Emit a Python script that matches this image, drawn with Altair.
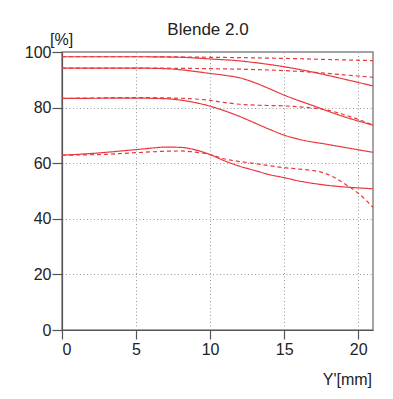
import altair as alt
import pandas as pd

# ---- data ----
a_s_x = [0, 5, 8, 10, 12, 13, 15, 17, 19, 21]
a_s_y = [98.3, 98.3, 98.1, 97.5, 96.8, 96.2, 94.7, 92.7, 90.3, 87.8]
a_d_x = [0, 5, 10, 15, 18, 21]
a_d_y = [98.3, 98.3, 98.1, 97.7, 97.3, 96.9]

b_s_x = [0, 5, 7, 10, 11, 12, 13, 14, 15, 17, 19, 21]
b_s_y = [94.2, 94.2, 94.0, 92.3, 91.6, 90.7, 89.0, 86.8, 84.5, 80.6, 76.8, 73.7]
b_d_x = [0, 5, 10, 15, 17, 19, 21]
b_d_y = [94.2, 94.2, 94.0, 93.3, 92.7, 91.8, 90.9]

c_s_x = [0, 5, 7, 8, 9, 10, 11, 12, 13, 14, 15, 16, 18, 21]
c_s_y = [83.3, 83.4, 83.2, 82.7, 81.8, 80.5, 78.8, 76.8, 74.5, 72.2, 70.1, 68.6, 66.7, 63.9]
c_d_x = [0, 5, 7, 9, 10, 11, 12, 13, 15, 17, 18, 19, 20, 21]
c_d_y = [83.3, 83.6, 83.5, 83.1, 82.6, 81.8, 81.2, 80.9, 80.6, 79.8, 79.0, 77.5, 75.8, 73.7]

d_s_x = [0, 2, 4, 5, 6, 7, 8, 9, 10, 11, 12, 13, 14, 15, 16, 17, 18, 19, 21]
d_s_y = [62.9, 63.5, 64.4, 64.9, 65.4, 65.8, 65.7, 64.8, 63.1, 60.8, 58.9, 57.4, 55.9, 54.8, 53.6, 52.7, 52.0, 51.5, 50.8]
d_d_x = [0, 3, 5, 7, 8, 9, 10, 11, 12, 13, 14, 15, 16, 17, 17.5, 18.3, 19.2, 20, 21]
d_d_y = [62.9, 63.2, 63.8, 64.3, 64.4, 64.0, 63.1, 61.5, 60.6, 59.9, 59.1, 58.4, 57.9, 57.3, 56.8, 55.1, 52.2, 49.2, 44.1]

x_ticks = [0, 5, 10, 15, 20]
y_ticks = [0, 20, 40, 60, 80, 100]

curves = [
    ("a_s", "solid", a_s_x, a_s_y), ("a_d", "dashed", a_d_x, a_d_y),
    ("b_s", "solid", b_s_x, b_s_y), ("b_d", "dashed", b_d_x, b_d_y),
    ("c_s", "solid", c_s_x, c_s_y), ("c_d", "dashed", c_d_x, c_d_y),
    ("d_s", "solid", d_s_x, d_s_y), ("d_d", "dashed", d_d_x, d_d_y),
]
rows = []
for name, style, xs, ys in curves:
    for i, (xv, yv) in enumerate(zip(xs, ys)):
        rows.append({"x": xv, "y": yv, "curve": name, "style": style, "order": i})
df = pd.DataFrame(rows)

FONT = "Liberation Sans"
RED = "#e8383d"

lines = alt.Chart(df).mark_line(strokeWidth=1.2, color=RED, interpolate="monotone").encode(
    x=alt.X("x:Q", scale=alt.Scale(domain=[0, 21], nice=False, zero=False),
            axis=alt.Axis(values=x_ticks, title=None, grid=True, format="d")),
    y=alt.Y("y:Q", scale=alt.Scale(domain=[0, 100], nice=False),
            axis=alt.Axis(values=y_ticks, title=None, grid=True, format="d")),
    detail="curve:N",
    order="order:Q",
    strokeDash=alt.StrokeDash("style:N", scale=alt.Scale(domain=["solid", "dashed"], range=[[1, 0], [4, 3]]), legend=None),
)

def label(txt, x, y, size, align="left"):
    return alt.Chart(pd.DataFrame({"t": [txt]})).mark_text(
        font=FONT, fontSize=size, color="#222", align=align, baseline="alphabetic"
    ).encode(text="t:N", x=alt.value(x), y=alt.value(y))

title = label("Blende 2.0", 146, -17, 17, "center")
pct = label("[%]", -12, -7, 16)
xt = label("Y'[mm]", 310, 333, 16, "right")

chart = alt.layer(lines, title, pct, xt).properties(
    width=311, height=278,
    autosize=alt.AutoSizeParams(type="none"),
    padding={"left": 54, "top": 44, "right": 12, "bottom": 60},
).configure_view(stroke="#888", strokeWidth=1.5).configure_axis(
    labelFont=FONT, labelFontSize=16, labelColor="#222",
    domainColor="#555", domainWidth=1.2, tickColor="#555", tickWidth=1.2, tickSize=9,
    labelPadding=2, gridColor="#999", gridDash=[1, 2.5], gridWidth=1,
).configure_axisX(labelPadding=2).configure_axisY(tickSize=10, labelPadding=1)

chart.save("out.html", embed_options={"renderer": "svg", "actions": False})
